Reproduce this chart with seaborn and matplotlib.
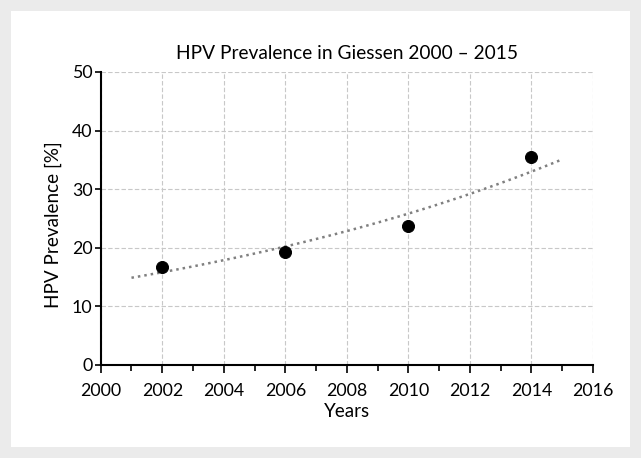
import numpy as np
import pandas as pd
import matplotlib.pyplot as plt
import seaborn as sns
from matplotlib.patches import Rectangle
from matplotlib.ticker import MultipleLocator

# Daten
years = [2002, 2006, 2010, 2014]
prevalence = [16.8, 19.3, 23.7, 35.5]
trend_start, trend_end = 2001, 2015

sns.set_style("ticks")
plt.rcParams["font.family"] = ["Lato", "DejaVu Sans"]
for key in ["text.color", "axes.labelcolor", "xtick.color", "ytick.color",
            "axes.edgecolor"]:
    plt.rcParams[key] = "black"

df = pd.DataFrame({"Years": years, "Prevalence": prevalence})

# exponentielle Trendlinie aus den Datenpunkten
k, log_a = np.polyfit(df["Years"] - 2008, np.log(df["Prevalence"]), 1)
trend_x = np.linspace(trend_start, trend_end, 60)
trend = pd.DataFrame({"Years": trend_x,
                      "Prevalence": np.exp(log_a + k * (trend_x - 2008))})

fig = plt.figure(figsize=(6.41, 4.58), dpi=100)
fig.patch.set_facecolor("#ebebeb")
fig.patches.append(Rectangle((11 / 641, 11 / 458), 619 / 641, 436 / 458,
                             transform=fig.transFigure, facecolor="white",
                             edgecolor="none", zorder=-5))
ax = fig.add_axes([0.1571, 0.2031, 0.768, 0.6397])
ax.set_zorder(2)
ax.set_facecolor("white")

sns.lineplot(data=trend, x="Years", y="Prevalence", ax=ax, color="#808080",
             linestyle=(0, (1, 1.6)), linewidth=1.8, zorder=2)
sns.scatterplot(data=df, x="Years", y="Prevalence", ax=ax, color="black",
                s=75, edgecolor="black", zorder=3)

ax.set_xlim(2000, 2016)
ax.set_ylim(0, 50)
ax.xaxis.set_major_locator(MultipleLocator(2))
ax.xaxis.set_minor_locator(MultipleLocator(1))
ax.yaxis.set_major_locator(MultipleLocator(10))
ax.grid(True, which="major", color="#c8c8c8", linestyle=(0, (4, 2)), linewidth=0.8)
ax.set_axisbelow(True)

sns.despine(ax=ax)
ax.spines["left"].set_linewidth(1.5)
ax.spines["bottom"].set_linewidth(1.5)
ax.tick_params(axis="x", which="major", length=6, width=1.2, labelsize=12.8, pad=7)
ax.tick_params(axis="x", which="minor", length=4, width=1.2)
ax.tick_params(axis="y", which="major", length=4, width=1.2, labelsize=12.8, pad=2)

ax.set_title("HPV Prevalence in Giessen 2000 – 2015", fontsize=13.8, pad=9)
ax.set_xlabel("Years", fontsize=13.5, labelpad=3)
ax.set_ylabel("HPV Prevalence [%]", fontsize=13.6)
ax.yaxis.set_label_coords(-0.079, 0.478)

fig.savefig("out.png", dpi=100, facecolor=fig.get_facecolor())
